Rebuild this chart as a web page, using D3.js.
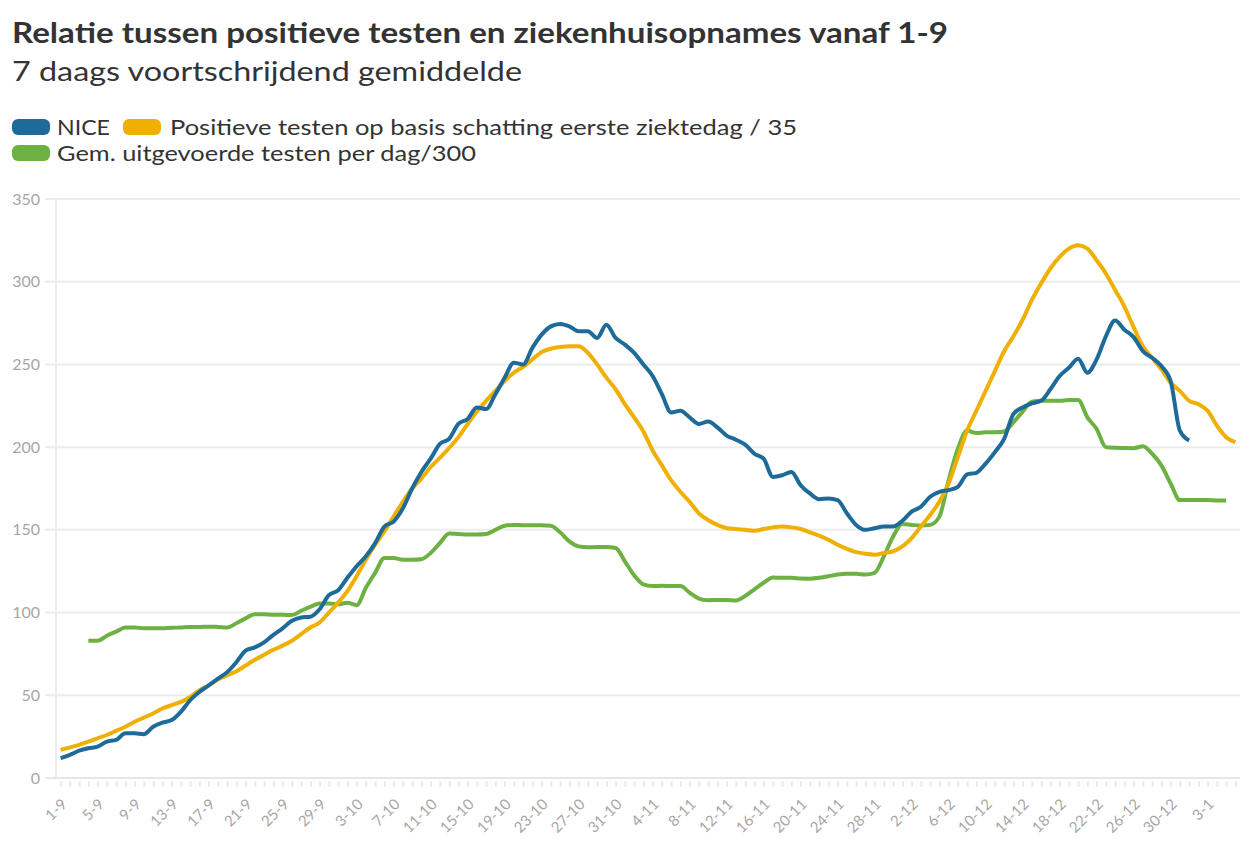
<!DOCTYPE html>
<html>
<head>
<meta charset="utf-8">
<script src="https://cdn.jsdelivr.net/npm/d3@7"></script>
<style>
  html, body { margin: 0; padding: 0; background: #fff; }
  svg { display: block; }
</style>
</head>
<body>
<svg id="chart" width="1250" height="854"></svg>
<script>
// ---------------- DATA ----------------
const titleText = "Relatie tussen positieve testen en ziekenhuisopnames vanaf 1-9";
const subtitleText = "7 daags voortschrijdend gemiddelde";

const startDate = new Date(2020, 8, 1);   // 1-9
const dayCount = 128;                      // 1-9 .. 6-1

const seriesNames = ["NICE", "Positieve testen op basis schatting eerste ziektedag / 35", "Gem. uitgevoerde testen per dag/300"];
const seriesColors = ["#1e6a98", "#efb003", "#6db143"];

const yTicks = [0, 50, 100, 150, 200, 250, 300, 350];
const xTickLabels = ["1-9","5-9","9-9","13-9","17-9","21-9","25-9","29-9","3-10","7-10","11-10","15-10","19-10","23-10","27-10","31-10","4-11","8-11","12-11","16-11","20-11","24-11","28-11","2-12","6-12","10-12","14-12","18-12","22-12","26-12","30-12","3-1"];

// NICE (day 0 = 1-9)
const nice = [12,14,16.5,18,19,22,23,27,27,26.5,
  31,33.5,35,40,47,52,56,60,64,70,
  77,79,82,86.5,90.5,95,97,97.5,102,110.5,
  113.5,121,128,134,142,152,155,163,175,185,
  193,202,205,214,217,224,223,232,242,251,
  250,260,268,273,274.5,273,270,270,266,274,
  266,262,257,250,243,232,221,222,218,214,
  215.5,212,207,204.5,201.5,196,193,182,183,185,
  177,172,168.5,169,168,160,153,150,151,152,
  152,155.5,161,164,170,173,174,176,183.5,184.5,
  190,197,205,220,224,226.5,228,235,243,248,
  253.5,245,253,267,276.5,271,266.5,258,254,249,
  240,210,204];

// Positieve testen / 35
const positief = [17,18.5,20,22,24,26,28.5,31,34,36.5,
  39,42,44,46,49,53,56,59.5,62,64.5,
  68,71.5,74.5,77.5,80,83,87,91,94,100,
  106,113,122,132,141,149,158,167,175,181,
  188,193.5,199.5,206,214,221.5,228,234,240,245,
  248.5,253,257.5,259.5,260.5,261,261,257,250,242,
  235,226,218,209.5,198,189,180,173,167,160,
  156,153,151,150.5,150,149.5,150.5,151.5,152,151.5,
  150.5,148.5,146.5,144,141,138.5,136.5,135.5,135,136,
  137,140,145,152,159,167,178,194,210,222,
  234,246,258,267,277,289,299,308,315,320,
  322,320,313,305,295,285,272.5,261,254,247,
  239,234,228,226,222,213,206,203];

// Gem. uitgevoerde testen per dag / 300
const testen = [null,null,null,83,83,86,88.5,91,91,90.5,
  90.5,90.5,90.8,91,91.3,91.3,91.5,91.3,91,93.5,
  96.5,99,99,98.7,98.7,98.5,101,103.5,105.5,105.5,
  105,106,104.5,115,124,133,133,132,132,132.3,
  136,142,147.8,147.5,147.2,147.2,147.5,150,152.5,153,
  152.8,152.8,152.8,152.5,148.5,143,140,139.5,139.6,139.6,
  139,131,122.5,117,116,116.2,116,116,112,108.5,
  107.5,107.6,107.6,107.3,110,114,118,121.2,121,121,
  120.6,120.5,121,122,123,123.4,123.4,123,124,134,
  146,153.5,153,152.6,153,158,180,199,210,208.5,
  209,209,209.5,215,221.5,227.5,228,228,228,228.5,
  228.5,218,211,200,199.6,199.5,199.4,200.5,196,189,
  178,168,168,168,168,167.8,167.8];

// ---------------- LAYOUT ----------------
const svg = d3.select("#chart");
const FONT = "'Source Sans Pro', Lato, 'Noto Sans', sans-serif";
const plot = { left: 56, right: 1240, top: 199, bottom: 778 };

svg.append("rect").attr("width", 1250).attr("height", 854).attr("fill", "#fff");

function fitWidth(sel, w) {
  const n = sel.node().getComputedTextLength();
  if (Math.abs(n - w) / w > 0.01) {
    sel.attr("textLength", w).attr("lengthAdjust", "spacingAndGlyphs");
  }
}

// Title & subtitle
const t = svg.append("text").attr("x", 12).attr("y", 43)
  .attr("font-family", FONT).attr("font-weight", 700).attr("font-size", 28)
  .attr("fill", "#333").text(titleText);
fitWidth(t, 936);
const st = svg.append("text").attr("x", 12).attr("y", 81)
  .attr("font-family", FONT).attr("font-weight", 400).attr("font-size", 26)
  .attr("fill", "#333").text(subtitleText);
fitWidth(st, 510);

// Legend
const legendItems = [
  { name: seriesNames[0], color: seriesColors[0], sx: 12, tx: 57, y: 127, tw: 53 },
  { name: seriesNames[1], color: seriesColors[1], sx: 123, tx: 170, y: 127, tw: 627 },
  { name: seriesNames[2], color: seriesColors[2], sx: 12, tx: 57, y: 153, tw: 419 }
];
legendItems.forEach(it => {
  svg.append("rect").attr("x", it.sx).attr("y", it.y - 8).attr("width", 38).attr("height", 16)
    .attr("rx", 6).attr("fill", it.color);
  const lt = svg.append("text").attr("x", it.tx).attr("y", it.y + 8)
    .attr("font-family", FONT).attr("font-size", 21).attr("fill", "#333").text(it.name);
  fitWidth(lt, it.tw);
});

// Scales
const x = d3.scaleLinear().domain([-0.5, dayCount - 0.5]).range([plot.left, plot.right]);
const y = d3.scaleLinear().domain([0, 350]).range([plot.bottom, plot.top]);

// Gridlines
svg.append("g").selectAll("line").data(yTicks).join("line")
  .attr("x1", 45).attr("x2", plot.right)
  .attr("y1", d => y(d)).attr("y2", d => y(d))
  .attr("stroke", "#ececec").attr("stroke-width", 2);
// vertical axis line
svg.append("line").attr("x1", plot.left).attr("x2", plot.left)
  .attr("y1", plot.top).attr("y2", plot.bottom)
  .attr("stroke", "#ececec").attr("stroke-width", 2);

// Y axis labels
const yAxis = d3.axisLeft(y).tickValues(yTicks).tickSize(0).tickPadding(0);
const gy = svg.append("g").attr("transform", "translate(40,0)").call(yAxis);
gy.select(".domain").remove();
gy.selectAll("text").attr("font-family", FONT).attr("font-size", 16).attr("fill", "#a9a5a5");

// X axis
const days = d3.range(dayCount);
const xAxis = d3.axisBottom(x).tickValues(days).tickSize(9)
  .tickFormat(d => (d % 4 === 0 && xTickLabels[d / 4]) ? xTickLabels[d / 4] : "");
const gx = svg.append("g").attr("transform", `translate(0,${plot.bottom})`).call(xAxis);
gx.select(".domain").attr("d", `M45,0H${plot.right}`).attr("stroke", "#e6e6e6").attr("stroke-width", 2);
gx.selectAll(".tick line").attr("y1", 3).attr("stroke", "#ebebeb").attr("stroke-width", 2);
gx.selectAll(".tick text")
  .attr("font-family", FONT).attr("font-size", 15).attr("fill", "#aaa5a5")
  .attr("text-anchor", "end").attr("y", 0).attr("dy", "0.35em")
  .attr("transform", "translate(3,23.5) rotate(-45)");

// Lines
const allSeries = [testen, positief, nice];
const colorsOrder = [seriesColors[2], seriesColors[1], seriesColors[0]];
const line = d3.line()
  .defined(d => d != null)
  .x((d, i) => x(i))
  .y(d => y(d))
  .curve(d3.curveMonotoneX);
allSeries.forEach((s, k) => {
  svg.append("path").datum(s)
    .attr("d", line)
    .attr("fill", "none")
    .attr("stroke", colorsOrder[k])
    .attr("stroke-width", 4)
    .attr("stroke-linejoin", "round")
    .attr("stroke-linecap", "butt");
});
</script>
</body>
</html>
